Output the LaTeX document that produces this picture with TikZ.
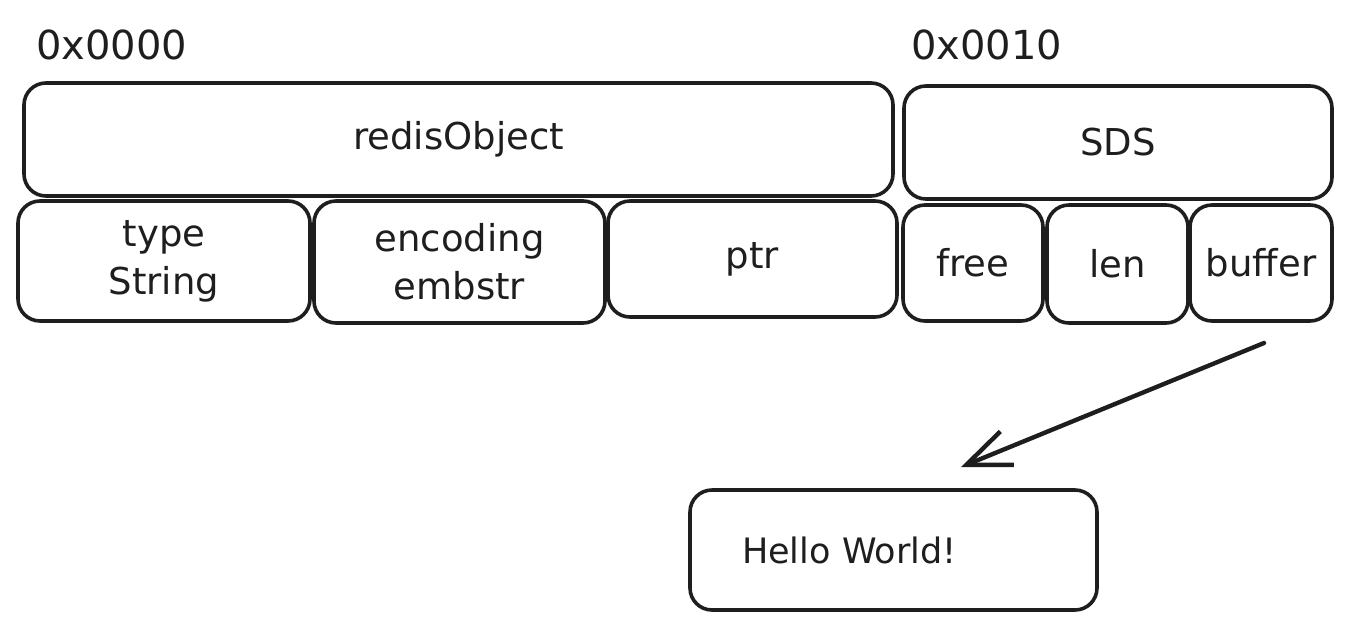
\documentclass[tikz,border=0pt]{standalone}
\usepackage{fontspec}
\setmainfont{DejaVu Sans}
\usetikzlibrary{arrows.meta}
\definecolor{ink}{HTML}{1E1E1E}
\tikzset{
  mbox/.style={draw=ink, line width=3.6pt, rounded corners=22pt, inner sep=0pt,
    align=center, text=ink, font=\fontsize{37}{48}\selectfont},
  addr/.style={text=ink, font=\fontsize{40}{44}\selectfont, anchor=west, inner sep=0pt},
  conn/.style={draw=ink, line width=4.4pt, line cap=round,
    -{Straight Barb[length=44pt,width=36pt,line width=4.4pt]}}
}
\begin{document}
\begin{tikzpicture}[x=1pt,y=-1pt]
\useasboundingbox (0,0) rectangle (1352,630);
\node[addr] (a0) at (36,45) {0x0000};
\node[addr] (a1) at (911,45) {0x0010};
\node[mbox, minimum width=869pt, minimum height=113pt] (robj) at (458.5,139.5) {redisObject};
\node[mbox, minimum width=428pt, minimum height=113pt] (sds) at (1118,142.5) {SDS};
\node[mbox, minimum width=292pt, minimum height=120pt] (type) at (164,261) {type\\String};
\node[mbox, minimum width=291pt, minimum height=122pt] (enc) at (459.5,262) {encoding\\embstr};
\node[mbox, minimum width=289pt, minimum height=116pt] (ptr) at (752.5,259) {ptr};
\node[mbox, minimum width=140pt, minimum height=116pt] (free) at (973,263) {free};
\node[mbox, minimum width=141pt, minimum height=118pt] (len) at (1117.5,264) {len};
\node[mbox, minimum width=142pt, minimum height=116pt] (buf) at (1261,263) {buffer};
\node[mbox, minimum height=120pt, inner xsep=52pt, text width=303pt, align=left,
  font=\fontsize{35}{40}\selectfont] (hello) at (893.5,550) {Hello World!};
\coordinate (as) at (1264,343);
\coordinate (ae) at (961,467);
\draw[conn] (as) -- (ae);
\end{tikzpicture}
\end{document}
